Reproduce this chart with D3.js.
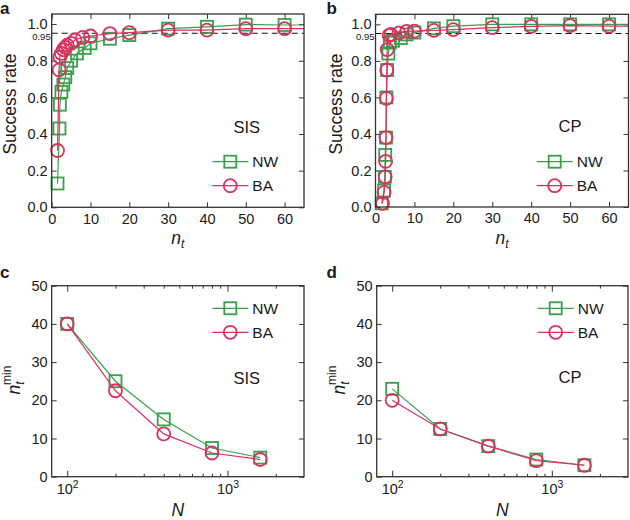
<!DOCTYPE html>
<html><head><meta charset="utf-8">
<script src="https://cdn.jsdelivr.net/npm/d3@7"></script>
<style>
body{margin:0;background:#fff}
svg{display:block}
text{font-family:"Liberation Sans",Arial,Helvetica,sans-serif;fill:#1a1a1a}
</style>
</head><body>
<svg id="chart" width="630" height="520"></svg>
<script>
// ---------- data ----------
// panel a (SIS): success rate vs n_t
const aNWx = [1.5, 2, 2.1, 2.5, 3, 3.5, 4, 5, 6.5, 8.5, 10, 15, 20, 30, 40, 50, 60];
const aNWy = [0.13, 0.43, 0.56, 0.63, 0.67, 0.71, 0.76, 0.80, 0.84, 0.87, 0.895, 0.92, 0.94, 0.975, 0.985, 0.997, 0.995];
const aBAx = [1.5, 1.9, 2.1, 2.5, 3, 3.5, 4, 5, 6, 8, 10, 15, 20, 30, 40, 50, 60];
const aBAy = [0.31, 0.75, 0.82, 0.84, 0.86, 0.873, 0.885, 0.895, 0.913, 0.927, 0.935, 0.948, 0.953, 0.967, 0.967, 0.975, 0.975];
// panel b (CP)
const bNWx = [1.6, 2.2, 2.4, 2.5, 2.7, 2.8, 3.0, 3.3, 3.7, 4.5, 6.5, 8, 10, 15, 20, 30, 40, 50, 60];
const bNWy = [0.02, 0.09, 0.165, 0.285, 0.38, 0.60, 0.75, 0.84, 0.90, 0.91, 0.925, 0.945, 0.955, 0.978, 0.99, 1.0, 1.0, 1.0, 1.0];
const bBAx = [1.8, 2.2, 2.5, 2.6, 2.7, 2.8, 2.9, 3.0, 3.5, 4, 6, 8, 10, 15, 20, 30, 40, 50, 60];
const bBAy = [0.02, 0.08, 0.165, 0.25, 0.38, 0.595, 0.75, 0.862, 0.94, 0.945, 0.952, 0.962, 0.963, 0.967, 0.971, 0.982, 0.989, 0.993, 0.99];
// panels c, d: n_t^min vs N
const sizesN = [100, 200, 400, 800, 1600];
const cNW = [40, 25, 15, 7.5, 5];
const cBA = [40, 22.5, 11.2, 6.2, 4.5];
const dNW = [23, 12.5, 8, 4.5, 3];
const dBA = [20, 12.5, 8, 4.2, 3];
// ticks
const rateTicks = [0, 0.2, 0.4, 0.6, 0.8, 1.0];
const ntTicks = [0, 10, 20, 30, 40, 50, 60];
const nminTicks = [0, 10, 20, 30, 40, 50];
const logMajor = [100, 1000];
const logMinor = [200, 300, 400, 500, 600, 700, 800, 900, 2000, 3000];
const seriesNames = ["NW", "BA"];
const threshold = 0.95;

// ---------- style ----------
const GREEN = "#36a04a";
const RED = "#d8325f";
const FRAME = "#333";
const svg = d3.select("#chart");

function marker(g, type, color, cx, cy) {
  if (type === "sq") {
    g.append("rect").attr("x", cx - 6).attr("y", cy - 6).attr("width", 12).attr("height", 12)
      .attr("fill", "none").attr("stroke", color).attr("stroke-width", 1.8);
  } else {
    g.append("circle").attr("cx", cx).attr("cy", cy).attr("r", 6.5)
      .attr("fill", "none").attr("stroke", color).attr("stroke-width", 1.8);
  }
}

function styleAxis(g, fs) {
  g.select(".domain").remove();
  g.selectAll(".tick line").attr("stroke", FRAME).attr("stroke-width", 1);
  g.selectAll(".tick text").attr("font-size", fs).attr("fill", "#1a1a1a")
    .attr("font-family", '"Liberation Sans",Arial,sans-serif');
}

function drawPanel(p) {
  const x = p.log ? d3.scaleLog().domain(p.xdom).range([p.L, p.R])
                  : d3.scaleLinear().domain(p.xdom).range([p.L, p.R]);
  const y = d3.scaleLinear().domain(p.ydom).range([p.B, p.T]);
  const g = svg.append("g");

  // axes
  if (p.log) {
    const bMaj = g.append("g").attr("transform", `translate(0,${p.B})`)
      .call(d3.axisBottom(x).tickValues(logMajor).tickSize(-6).tickPadding(7).tickFormat(""));
    styleAxis(bMaj, 14.5);
    bMaj.selectAll(".tick").each(function(d) {
      const t = d3.select(this).append("text").attr("y", 17).attr("text-anchor", "middle")
        .attr("font-size", 14.5).attr("fill", "#1a1a1a");
      t.append("tspan").text("10");
      t.append("tspan").attr("font-size", 10.5).attr("dy", -6).text(Math.round(Math.log10(d)));
    });
    const bMin = g.append("g").attr("transform", `translate(0,${p.B})`)
      .call(d3.axisBottom(x).tickValues(logMinor.filter(v => v < p.xdom[1])).tickSize(-3).tickFormat(""));
    styleAxis(bMin, 14);
    const tMaj = g.append("g").attr("transform", `translate(0,${p.T})`)
      .call(d3.axisTop(x).tickValues(logMajor).tickSize(-6).tickFormat(""));
    styleAxis(tMaj, 14);
    const tMin = g.append("g").attr("transform", `translate(0,${p.T})`)
      .call(d3.axisTop(x).tickValues(logMinor.filter(v => v < p.xdom[1])).tickSize(-3).tickFormat(""));
    styleAxis(tMin, 14);
  } else {
    const bx = g.append("g").attr("transform", `translate(0,${p.B})`)
      .call(d3.axisBottom(x).tickValues(p.xticks).tickSize(-5).tickPadding(6).tickFormat(d3.format("d")));
    styleAxis(bx, 14.5);
    const tx = g.append("g").attr("transform", `translate(0,${p.T})`)
      .call(d3.axisTop(x).tickValues(p.xticks).tickSize(-5).tickFormat(""));
    styleAxis(tx, 14);
  }
  const ly = g.append("g").attr("transform", `translate(${p.L},0)`)
    .call(d3.axisLeft(y).tickValues(p.yticks).tickSize(-5).tickPadding(4).tickFormat(p.yfmt));
  styleAxis(ly, 14.5);
  const ry = g.append("g").attr("transform", `translate(${p.R},0)`)
    .call(d3.axisRight(y).tickValues(p.yticks).tickSize(-5).tickFormat(""));
  styleAxis(ry, 14);

  // threshold
  if (p.thresh) {
    g.append("line").attr("x1", p.L).attr("x2", p.R).attr("y1", y(threshold)).attr("y2", y(threshold))
      .attr("stroke", "#111").attr("stroke-width", 1.2).attr("stroke-dasharray", "6,4");
    g.append("text").attr("x", p.L - 1).attr("y", y(threshold) + 6.5).attr("text-anchor", "end")
      .attr("font-size", 9.5).text("0.95");
  }

  // series
  const line = d3.line().x(d => x(d[0])).y(d => y(d[1]));
  p.series.forEach(s => {
    const pts = s.xs.map((v, i) => [v, s.ys[i]]);
    const linePts = p.extend ? pts.concat([[p.xdom[1], s.ys[s.ys.length - 1]]]) : pts;
    g.append("path").datum(linePts).attr("d", line).attr("fill", "none")
      .attr("stroke", s.color).attr("stroke-width", 1.2);
    pts.forEach(d => marker(g, s.type, s.color, x(d[0]), y(d[1])));
  });

  // frame
  g.append("rect").attr("x", p.L).attr("y", p.T).attr("width", p.R - p.L).attr("height", p.B - p.T)
    .attr("fill", "none").attr("stroke", FRAME).attr("stroke-width", 1.3);

  // legend
  p.series.forEach((s, i) => {
    const ly0 = p.legY + i * 24;
    g.append("line").attr("x1", p.legX).attr("x2", p.legX + 36).attr("y1", ly0).attr("y2", ly0)
      .attr("stroke", s.color).attr("stroke-width", 1.2);
    marker(g, s.type, s.color, p.legX + 18, ly0);
    g.append("text").attr("x", p.legX + 40).attr("y", ly0 + 5.5).attr("font-size", 15.5).text(seriesNames[i]);
  });
  g.append("text").attr("x", p.tagX).attr("y", p.tagY).attr("text-anchor", "middle")
    .attr("font-size", 16.5).text(p.tag);

  // panel letter
  g.append("text").attr("x", p.letterX).attr("y", p.letterY).attr("font-size", 17)
    .attr("font-weight", "bold").text(p.letter);

  // axis titles
  const xt = g.append("text").attr("x", (p.L + p.R) / 2).attr("y", p.xtitleY).attr("text-anchor", "middle")
    .attr("font-size", 17.5);
  if (p.log) {
    xt.append("tspan").attr("font-style", "italic").text("N");
  } else {
    xt.append("tspan").attr("font-style", "italic").text("n");
    xt.append("tspan").attr("font-style", "italic").attr("font-size", 12).attr("dy", 4).text("t");
  }
  const yt = g.append("text").attr("transform", `translate(${p.ytitleX},${p.ytitleY}) rotate(-90)`)
    .attr("text-anchor", "middle").attr("font-size", 17.5);
  if (p.log) {
    yt.append("tspan").attr("font-style", "italic").text("n");
    yt.append("tspan").attr("font-style", "italic").attr("font-size", 12).attr("dy", 4).text("t");
    yt.append("tspan").attr("font-size", 12).attr("dx", -3.5).attr("dy", -13).text("min");
  } else {
    yt.text("Success rate");
  }
}

const fmt1 = d3.format(".1f");
const fmtd = d3.format("d");

drawPanel({ L: 51.7, R: 304, T: 14, B: 207.3, xdom: [0, 65], ydom: [0, 1.055], xticks: ntTicks, yticks: rateTicks,
  yfmt: fmt1, thresh: true, extend: true,
  series: [{ xs: aNWx, ys: aNWy, color: GREEN, type: "sq" }, { xs: aBAx, ys: aBAy, color: RED, type: "ci" }],
  legX: 212.3, legY: 161.7, tag: "SIS", tagX: 246.7, tagY: 132.5, letter: "a", letterX: 0, letterY: 13.5,
  xtitleY: 243.5, ytitleX: 16, ytitleY: 104 });

drawPanel({ L: 375.5, R: 628.5, T: 14.3, B: 207, xdom: [0, 65], ydom: [0, 1.055], xticks: ntTicks, yticks: rateTicks,
  yfmt: fmt1, thresh: true, extend: true,
  series: [{ xs: bNWx, ys: bNWy, color: GREEN, type: "sq" }, { xs: bBAx, ys: bBAy, color: RED, type: "ci" }],
  legX: 536.7, legY: 161.7, tag: "CP", tagX: 570, tagY: 132, letter: "b", letterX: 326.5, letterY: 13.5,
  xtitleY: 243.5, ytitleX: 342, ytitleY: 104 });

drawPanel({ L: 51.7, R: 304, T: 285.7, B: 476.7, xdom: [80, 3000], ydom: [0, 50], log: true, yticks: nminTicks,
  yfmt: fmtd, thresh: false, extend: false,
  series: [{ xs: sizesN, ys: cNW, color: GREEN, type: "sq" }, { xs: sizesN, ys: cBA, color: RED, type: "ci" }],
  legX: 212.3, legY: 308.3, tag: "SIS", tagX: 246.7, tagY: 384, letter: "c", letterX: 0, letterY: 277.5,
  xtitleY: 516, ytitleX: 20, ytitleY: 380 });

drawPanel({ L: 376.7, R: 628, T: 285.7, B: 476.7, xdom: [80, 3000], ydom: [0, 50], log: true, yticks: nminTicks,
  yfmt: fmtd, thresh: false, extend: false,
  series: [{ xs: sizesN, ys: dNW, color: GREEN, type: "sq" }, { xs: sizesN, ys: dBA, color: RED, type: "ci" }],
  legX: 537.7, legY: 308.3, tag: "CP", tagX: 570, tagY: 382.5, letter: "d", letterX: 326.5, letterY: 277.5,
  xtitleY: 516, ytitleX: 345, ytitleY: 380 });
</script>
</body></html>
